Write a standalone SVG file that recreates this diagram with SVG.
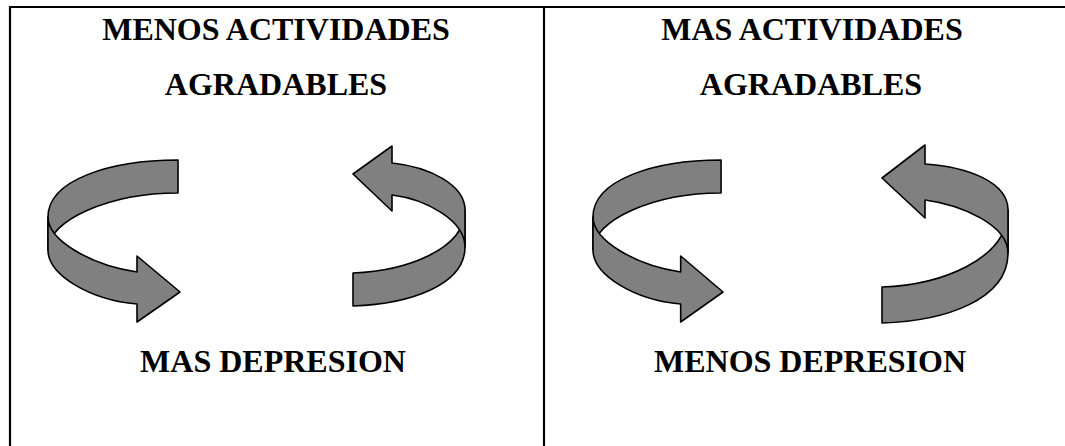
<svg xmlns="http://www.w3.org/2000/svg" width="1065" height="446" viewBox="0 0 1065 446">
<style>
.t{font-family:"Liberation Serif","Times New Roman",serif;font-weight:bold;font-size:32px;fill:#000;text-anchor:middle}
.b{fill:#808080;stroke:#000;stroke-width:1.6;stroke-linejoin:round}
.g{stroke:#000;stroke-width:2.2;fill:none}
</style>
<rect width="1065" height="446" fill="#fff"/>
<g id="table">
<line class="g" x1="9" y1="7" x2="1065" y2="7"/>
<line class="g" x1="10" y1="6" x2="10" y2="446"/>
<line class="g" x1="544" y1="6" x2="544" y2="446"/>
</g>
<g id="left-top-text">
<text class="t" x="276" y="40">MENOS ACTIVIDADES</text>
<text class="t" x="276" y="95">AGRADABLES</text>
</g>
<g id="left-bottom-text">
<text class="t" x="273" y="372">MAS DEPRESION</text>
</g>
<g id="right-top-text">
<text class="t" x="812" y="40">MAS ACTIVIDADES</text>
<text class="t" x="811" y="95">AGRADABLES</text>
</g>
<g id="right-bottom-text">
<text class="t" x="810" y="372">MENOS DEPRESION</text>
</g>
<g id="connectors">
<g id="arrow-l1">
<path class="b" d="M178,160 C110,160 48,180 48,217 L48,250 C48,220 110,193 178,193 Z"/>
<path class="b" d="M48,217 C48,240 90,265 137,272 L137,256 L180,292 L137,322 L137,304 C90,300 48,275 48,250 Z"/>
</g>
<g id="arrow-l2">
<path class="b" d="M353,306 C410,304 465,285 465,247 L465,210 C465,250 405,271 353,273 Z"/>
<path class="b" d="M465,210 C465,185 430,167 392,163 L392,146 L353,174 L392,211 L392,195 C425,199 465,220 465,247 Z"/>
</g>
<g id="arrow-r1" transform="translate(593,0) scale(0.985,1) translate(-48,0)">
<path class="b" d="M178,160 C110,160 48,180 48,217 L48,250 C48,220 110,193 178,193 Z"/>
<path class="b" d="M48,217 C48,240 90,265 137,272 L137,256 L180,292 L137,322 L137,304 C90,300 48,275 48,250 Z"/>
</g>
<g id="arrow-r2">
<path class="b" d="M882,323 C945,321 1008,300 1008,253 L1008,210 C1008,260 940,285 882,287 Z"/>
<path class="b" d="M1008,210 C1008,182 968,167 925,164 L925,145 L882,178 L925,218 L925,200 C962,205 1008,225 1008,253 Z"/>
</g>
</g>
</svg>
